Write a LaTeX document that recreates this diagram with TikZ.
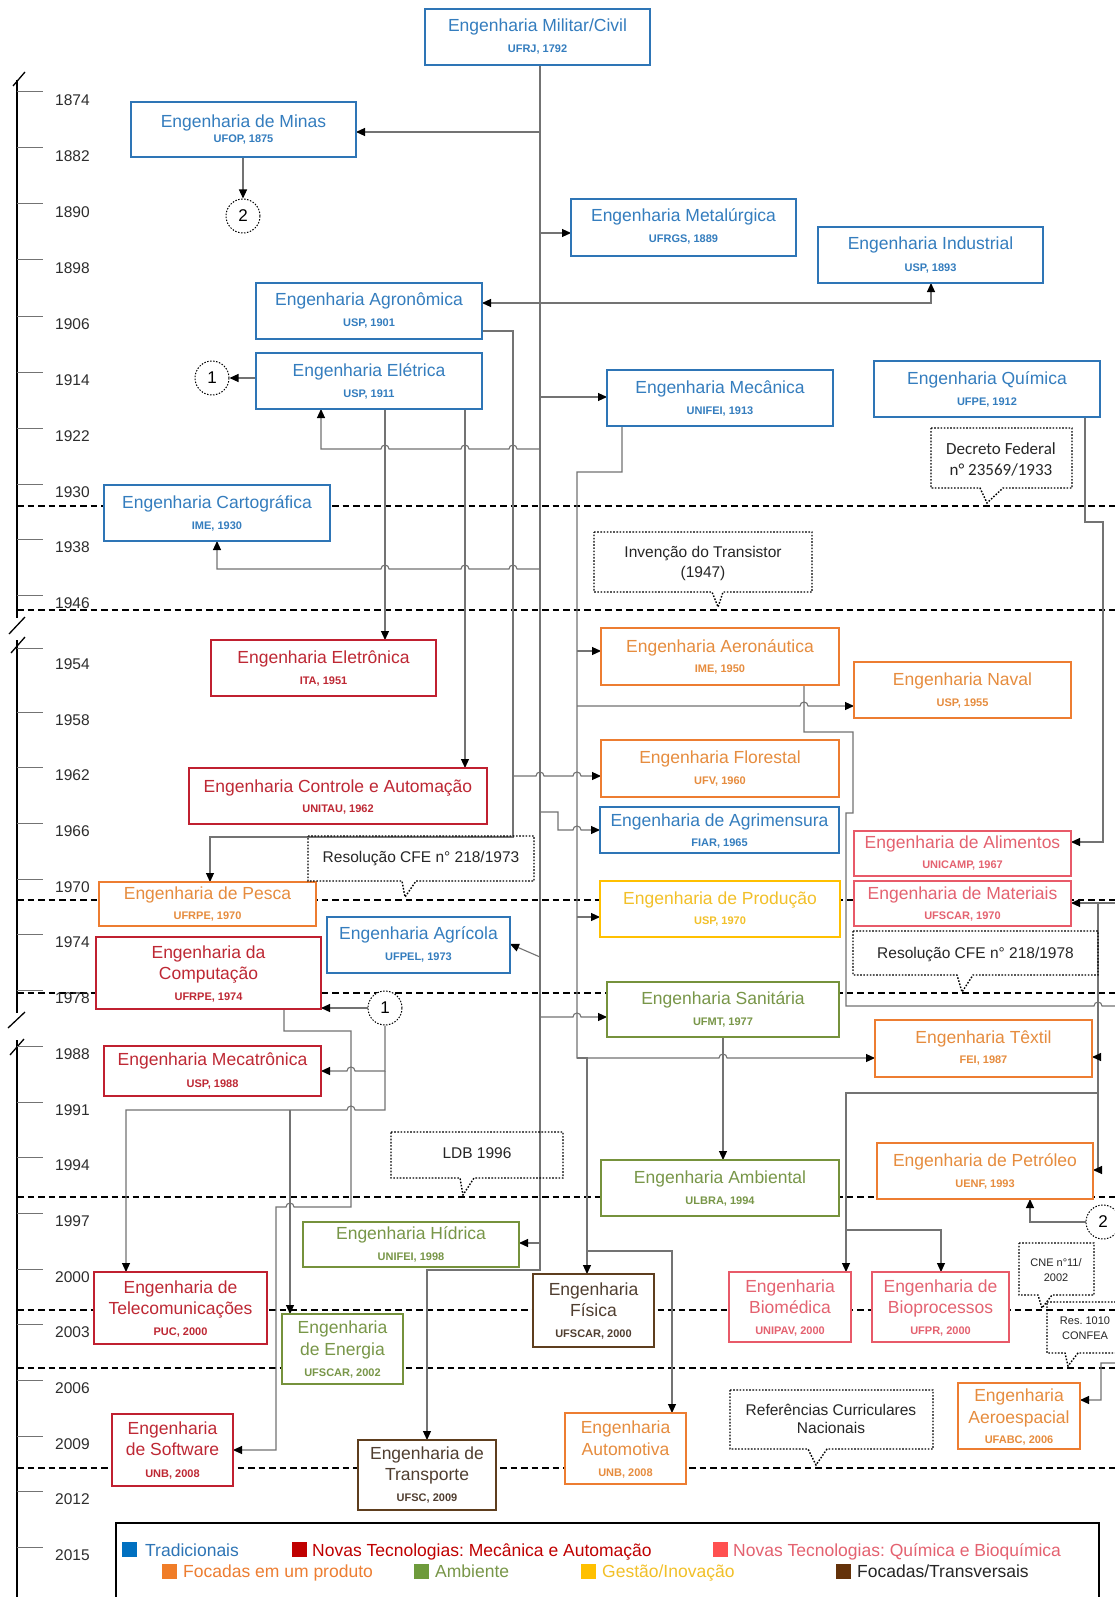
\documentclass[tikz,border=0pt]{standalone}
\usepackage{fontspec}
\setmainfont{Liberation Sans}
\newfontfamily\calibfont{Carlito}
\usetikzlibrary{arrows.meta}
\pgfdeclarelayer{base}
\pgfdeclarelayer{bg}
\pgfsetlayers{base,bg,main}
\frenchspacing
\newcounter{lbl}
\definecolor{tradB}{RGB}{46,117,182}\definecolor{tradT}{RGB}{52,125,190}
\definecolor{mecB}{RGB}{192,32,48}\definecolor{mecT}{RGB}{190,40,52}
\definecolor{quiB}{RGB}{232,90,105}\definecolor{quiT}{RGB}{228,98,112}
\definecolor{proB}{RGB}{237,125,49}\definecolor{proT}{RGB}{230,140,62}
\definecolor{ambB}{RGB}{118,146,60}\definecolor{ambT}{RGB}{120,150,72}
\definecolor{gesB}{RGB}{255,192,0}\definecolor{gesT}{RGB}{242,192,40}
\definecolor{trnB}{RGB}{94,62,30}\definecolor{trnT}{RGB}{80,62,48}
\definecolor{lgray}{RGB}{115,115,115}
\definecolor{yeargray}{RGB}{45,45,45}
\definecolor{sqBlue}{RGB}{0,112,192}\definecolor{sqRed}{RGB}{192,0,0}
\definecolor{sqPink}{RGB}{255,80,80}\definecolor{sqOrange}{RGB}{240,125,40}
\definecolor{sqGreen}{RGB}{110,155,60}\definecolor{sqYellow}{RGB}{255,192,0}
\definecolor{sqBrown}{RGB}{100,50,10}
\tikzset{
 conn/.style={draw=lgray,line width=1.1pt},
 arr/.style={conn,-{Triangle[length=9pt,width=8pt,color=black]}},
 ebox/.style={draw,line width=1.8pt,fill=white,inner sep=0pt,outer sep=0pt},
 ttl/.style={anchor=base,inner sep=0pt,font=\fontsize{17.5}{20}\selectfont},
 sbt/.style={anchor=base,inner sep=0pt,font=\bfseries\fontsize{11}{13}\selectfont},
 era/.style={draw=black,line width=2.4pt,dash pattern=on 6.5pt off 4pt},
 callout/.style={draw=black,line width=1.4pt,dash pattern=on 1.6pt off 1.6pt},
 ctext/.style={anchor=base,inner sep=0pt,font=\fontsize{15.5}{18}\selectfont,text=black!85},
 csmall/.style={anchor=base,inner sep=0pt,font=\fontsize{11}{13}\selectfont,text=black!85},
 ring/.style={circle,draw=black,line width=1pt,dash pattern=on 1.5pt off 1.5pt,fill=white,minimum size=34pt,inner sep=0pt,font=\fontsize{17}{20}\selectfont},
 lgsq/.style={minimum size=15pt,inner sep=0pt},
 lgtx/.style={anchor=base west,inner sep=0pt,font=\fontsize{17.5}{20}\selectfont},
}
\newcommand\EngBox[6]{\node[ebox,draw=#2B,minimum width={(#5-#3)*1pt},minimum height={(#6-#4)*1pt}] (#1) at ({(#3+#5)/2},{(#4+#6)/2}) {};}
\newcommand\BoxT[4]{\stepcounter{lbl}\node[ttl,text=#1T] (lbl\arabic{lbl}) at (#2,#3+6) {#4};}
\newcommand\BoxS[4]{\stepcounter{lbl}\node[sbt,text=#1T] (lbl\arabic{lbl}) at (#2,#3+4) {#4};}
\newcommand\hopR[2]{-- ({#1-4},#2) arc[start angle=180,end angle=0,radius=4pt]}
\newcommand\hopL[2]{-- ({#1+4},#2) arc[start angle=0,end angle=180,radius=4pt]}
\newcommand\CallOut[8]{\path[callout] (#1,#2) -- (#3,#2) -- (#3,#4) -- (#8,#4) -- (#6,#7) -- (#5,#4) -- (#1,#4) -- cycle;}
\begin{document}
\begin{tikzpicture}[x=1pt,y=-1pt]
\useasboundingbox (0,0) rectangle (1115,1597);
\begin{pgfonlayer}{base}
\fill[white] (0,0) rectangle (1115,1597);
\end{pgfonlayer}
% ---------- time axis ----------
\draw[line width=1.8pt] (17,80) -- (17,618) (17,640) -- (17,1013) (17,1040) -- (17,1605);
\draw[line width=1.3pt] (13,86) -- (25,72) (9,634) -- (25,617) (11,653) -- (25,637) (8,1028) -- (25,1012) (10,1055) -- (24,1039);
\foreach \yr/\yy in {1874/100,1882/156,1890/212,1898/268,1906/324,1914/380,1922/436,1930/492,1938/547,1946/603,1958/720,1962/775,1966/831,1970/887,1974/942,1978/998,1988/1054,1991/1110,1994/1165,1997/1221,2000/1277,2003/1332,2006/1388,2009/1444,2012/1499,2015/1555}{
 \draw[draw=lgray,line width=1pt] (17,\yy-8) -- (43,\yy-8);
 \node[anchor=base west,inner sep=0pt,font=\fontsize{15.5}{18}\selectfont,text=yeargray] (y\yr) at (55,\yy+5.5) {\yr};
}
\draw[draw=lgray,line width=1pt] (17,648) -- (43,648);
\node[anchor=base west,inner sep=0pt,font=\fontsize{15.5}{18}\selectfont,text=yeargray] (y1954) at (55,669.5) {1954};
% ---------- era lines ----------
\begin{pgfonlayer}{bg}
\foreach \yy in {506,610,900,993,1197,1310,1368,1468} \draw[era] (17,\yy) -- (1115,\yy);
\end{pgfonlayer}
% ---------- boxes ----------
\EngBox{militar}{trad}{425}{9}{650}{65}
\EngBox{minas}{trad}{131}{102}{356}{157}
\EngBox{metal}{trad}{571}{199}{796}{256}
\EngBox{indus}{trad}{818}{227}{1043}{283}
\EngBox{agron}{trad}{256}{283}{482}{339}
\EngBox{eletr}{trad}{256}{353}{482}{409}
\EngBox{mecan}{trad}{607}{370}{833}{426}
\EngBox{quim}{trad}{874}{361}{1100}{417}
\EngBox{carto}{trad}{104}{485}{330}{541}
\EngBox{eletron}{mec}{211}{640}{436}{696}
\EngBox{aero}{pro}{601}{628}{839}{685}
\EngBox{naval}{pro}{854}{662}{1071}{718}
\EngBox{flor}{pro}{601}{740}{839}{797}
\EngBox{contr}{mec}{189}{768}{487}{824}
\EngBox{agrim}{trad}{600}{807}{839}{853}
\EngBox{alim}{qui}{854}{831}{1071}{876}
\EngBox{pesca}{pro}{99}{882}{316}{926}
\EngBox{prod}{ges}{600}{881}{840}{937}
\EngBox{mater}{qui}{854}{881}{1071}{926}
\EngBox{agric}{trad}{327}{917}{510}{973}
\EngBox{comp}{mec}{96}{937}{321}{1009}
\EngBox{sanit}{amb}{607}{982}{839}{1037}
\EngBox{textil}{pro}{875}{1020}{1092}{1077}
\EngBox{mecat}{mec}{104}{1046}{321}{1096}
\EngBox{ambient}{amb}{601}{1160}{839}{1216}
\EngBox{petro}{pro}{877}{1143}{1093}{1199}
\EngBox{hidr}{amb}{303}{1222}{519}{1267}
\EngBox{fis}{trn}{533}{1274}{654}{1347}
\EngBox{biomed}{qui}{729}{1272}{851}{1342}
\EngBox{biopro}{qui}{872}{1272}{1009}{1342}
\EngBox{telec}{mec}{94}{1272}{267}{1344}
\EngBox{energ}{amb}{282}{1314}{403}{1384}
\EngBox{softw}{mec}{112}{1414}{233}{1486}
\EngBox{transp}{trn}{358}{1440}{496}{1510}
\EngBox{auto}{pro}{565}{1413}{686}{1484}
\EngBox{aeroesp}{pro}{958}{1383}{1080}{1449}
\node[ring] (c2a) at (243,216) {2};
\node[ring] (c1a) at (212,378) {1};
\node[ring] (c1b) at (385,1008) {1};
\node[ring] (c2b) at (1103,1222) {2};
% ---------- box texts ----------
\BoxT{trad}{537.5}{26}{Engenharia Militar/Civil}\BoxS{trad}{537.5}{49}{UFRJ, 1792}
\BoxT{trad}{243.5}{122}{Engenharia de Minas}\BoxS{trad}{243.5}{139}{UFOP, 1875}
\BoxT{trad}{683.5}{216}{Engenharia Metalúrgica}\BoxS{trad}{683.5}{239}{UFRGS, 1889}
\BoxT{trad}{930.5}{244}{Engenharia Industrial}\BoxS{trad}{930.5}{267}{USP, 1893}
\BoxT{trad}{369}{299}{Engenharia Agronômica}\BoxS{trad}{369}{322}{USP, 1901}
\BoxT{trad}{369}{370}{Engenharia Elétrica}\BoxS{trad}{369}{393}{USP, 1911}
\BoxT{trad}{720}{387}{Engenharia Mecânica}\BoxS{trad}{720}{410}{UNIFEI, 1913}
\BoxT{trad}{987}{378}{Engenharia Química}\BoxS{trad}{987}{401}{UFPE, 1912}
\BoxT{trad}{217}{502}{Engenharia Cartográfica}\BoxS{trad}{217}{525}{IME, 1930}
\BoxT{mec}{323.5}{657}{Engenharia Eletrônica}\BoxS{mec}{323.5}{680}{ITA, 1951}
\BoxT{pro}{720}{646}{Engenharia Aeronáutica}\BoxS{pro}{720}{668}{IME, 1950}
\BoxT{pro}{962.5}{679}{Engenharia Naval}\BoxS{pro}{962.5}{702}{USP, 1955}
\BoxT{pro}{720}{757}{Engenharia Florestal}\BoxS{pro}{720}{780}{UFV, 1960}
\BoxT{mec}{338}{786}{Engenharia Controle e Automação}\BoxS{mec}{338}{808}{UNITAU, 1962}
\BoxT{trad}{719.5}{820}{Engenharia de Agrimensura}\BoxS{trad}{719.5}{842}{FIAR, 1965}
\BoxT{qui}{962.5}{842}{Engenharia de Alimentos}\BoxS{qui}{962.5}{864}{UNICAMP, 1967}
\BoxT{pro}{207.5}{893}{Engenharia de Pesca}\BoxS{pro}{207.5}{915}{UFRPE, 1970}
\BoxT{ges}{720}{898}{Engenharia de Produção}\BoxS{ges}{720}{920}{USP, 1970}
\BoxT{qui}{962.5}{893}{Engenharia de Materiais}\BoxS{qui}{962.5}{915}{UFSCAR, 1970}
\BoxT{trad}{418.5}{933}{Engenharia Agrícola}\BoxS{trad}{418.5}{956}{UFPEL, 1973}
\BoxT{mec}{208.5}{952}{Engenharia da}\BoxT{mec}{208.5}{973}{Computação}\BoxS{mec}{208.5}{996}{UFRPE, 1974}
\BoxT{amb}{723}{998}{Engenharia Sanitária}\BoxS{amb}{723}{1021}{UFMT, 1977}
\BoxT{pro}{983.5}{1037}{Engenharia Têxtil}\BoxS{pro}{983.5}{1059}{FEI, 1987}
\BoxT{mec}{212.5}{1059}{Engenharia Mecatrônica}\BoxS{mec}{212.5}{1083}{USP, 1988}
\BoxT{amb}{720}{1177}{Engenharia Ambiental}\BoxS{amb}{720}{1200}{ULBRA, 1994}
\BoxT{pro}{985}{1160}{Engenharia de Petróleo}\BoxS{pro}{985}{1183}{UENF, 1993}
\BoxT{amb}{411}{1233}{Engenharia Hídrica}\BoxS{amb}{411}{1256}{UNIFEI, 1998}
\BoxT{trn}{593.5}{1289}{Engenharia}\BoxT{trn}{593.5}{1310}{Física}\BoxS{trn}{593.5}{1333}{UFSCAR, 2000}
\BoxT{qui}{790}{1286}{Engenharia}\BoxT{qui}{790}{1307}{Biomédica}\BoxS{qui}{790}{1330}{UNIPAV, 2000}
\BoxT{qui}{940.5}{1286}{Engenharia de}\BoxT{qui}{940.5}{1307}{Bioprocessos}\BoxS{qui}{940.5}{1330}{UFPR, 2000}
\BoxT{mec}{180.5}{1287}{Engenharia de}\BoxT{mec}{180.5}{1308}{Telecomunicações}\BoxS{mec}{180.5}{1331}{PUC, 2000}
\BoxT{amb}{342.5}{1327}{Engenharia}\BoxT{amb}{342.5}{1349}{de Energia}\BoxS{amb}{342.5}{1372}{UFSCAR, 2002}
\BoxT{mec}{172.5}{1428}{Engenharia}\BoxT{mec}{172.5}{1449}{de Software}\BoxS{mec}{172.5}{1473}{UNB, 2008}
\BoxT{trn}{427}{1453}{Engenharia de}\BoxT{trn}{427}{1474}{Transporte}\BoxS{trn}{427}{1497}{UFSC, 2009}
\BoxT{pro}{625.5}{1427}{Engenharia}\BoxT{pro}{625.5}{1449}{Automotiva}\BoxS{pro}{625.5}{1472}{UNB, 2008}
\BoxT{pro}{1019}{1395}{Engenharia}\BoxT{pro}{1019}{1417}{Aeroespacial}\BoxS{pro}{1019}{1439}{UFABC, 2006}
% ---------- connectors ----------
\begin{pgfonlayer}{bg}
% trunk
\draw[arr] (militar.south -| 540,0) -- (540,1270) -- (transp.north |- 0,1270) -- (transp.north);
\draw[arr] (540,132) -- (minas.east |- 0,132);
\draw[arr] (minas.south -| 243,0) -- (c2a.north);
\draw[arr] (540,233) -- (metal.west |- 0,233);
\draw[arr] (540,303) -- (agron.east |- 0,303);
\draw[arr] (540,303) -- (931,303) -- (indus.south -| 931,0);
\draw[arr] (540,397) -- (mecan.west |- 0,397);
\draw[arr] (eletr.west |- 0,378) -- (c1a.east);
\draw[arr] (540,449) \hopL{513}{449} \hopL{465}{449} \hopL{385}{449} -- (321,449) -- (eletr.south -| 321,0);
\draw[arr] (540,569) \hopL{513}{569} \hopL{465}{569} \hopL{385}{569} -- (217,569) -- (carto.south -| 217,0);
\draw[arr] (eletr.south -| 385,0) -- (eletron.north -| 385,0);
\draw[arr] (eletr.south -| 465,0) -- (contr.north -| 465,0);
\draw[arr] (agron.east |- 0,331) -- (513,331) -- (513,837) -- (210,837) -- (pesca.north -| 210,0);
\draw[arr] (513,776) \hopR{540}{776} \hopR{577}{776} -- (flor.west |- 0,776);
% Mecanica branch
\draw[arr] (mecan.south -| 622,0) -- (622,472) -- (577,472) -- (577,1058) \hopR{723}{1058} -- (textil.west |- 0,1058);
\draw[arr] (577,651) -- (aero.west |- 0,651);
\draw[arr] (577,706) \hopR{804}{706} -- (naval.west |- 0,706);
\draw[arr] (577,917) -- (prod.west |- 0,917);
\draw[arr] (577,1058) -- (587,1058) -- (fis.north -| 587,0);
\draw[arr] (587,1251) -- (672,1251) -- (auto.north -| 672,0);
\draw[arr] (540,812) -- (558,812) -- (558,830) \hopR{577}{830} -- (agrim.west |- 0,830);
\draw[arr] (540,1017) \hopR{577}{1017} -- (sanit.west |- 0,1017);
\draw[arr] (540,957) -- (agric.east |- 0,944);
\draw[arr] (sanit.south -| 723,0) -- (ambient.north -| 723,0);
\draw[arr] (540,1243) -- (hidr.east |- 0,1243);
% Aeronautica -> Aeroespacial
\draw[arr] (aero.south -| 804,0) -- (804,732) -- (853,732) -- (853,813) -- (846,813) -- (846,1006) \hopR{1098}{1006} -- (1125,1006) -- (1125,1363) -- (1101,1363) -- (1101,1400) -- (aeroesp.east |- 0,1400);
% Quimica branch
\draw[arr] (quim.south -| 1085,0) -- (1085,522) -- (1103,522) -- (1103,842) -- (alim.east |- 0,842);
\draw[arr] (1125,903) -- (mater.east |- 0,903);
\draw[arr] (1098,903) -- (1098,1170) -- (petro.east |- 0,1170);
\draw[arr] (1098,1057) -- (textil.east |- 0,1057);
\draw[arr] (1098,1093) -- (846,1093) -- (biomed.north -| 846,0);
\draw[arr] (846,1230) -- (941,1230) -- (biopro.north -| 941,0);
\draw[arr] (c2b.west) -- (1030,1222) -- (petro.south -| 1030,0);
% circle 1 and Computacao
\draw[arr] (c1b.west) -- (comp.east |- 0,1008);
\draw[arr] (c1b.south) -- (385,1071) \hopL{351}{1071} -- (mecat.east |- 0,1071);
\draw[arr] (385,1071) -- (385,1110) \hopL{351}{1110} -- (126,1110) -- (telec.north -| 126,0);
\draw[arr] (290,1110) -- (energ.north -| 290,0);
\draw[arr] (comp.south -| 284,0) -- (284,1031) -- (351,1031) -- (351,1207) \hopL{290}{1207} -- (276,1207) -- (276,1450) -- (softw.east |- 0,1450);
\end{pgfonlayer}
% ---------- callouts ----------
\CallOut{931}{428}{1072}{488}{980}{987}{503}{1003}
\node[anchor=base,inner sep=0pt,font=\calibfont\fontsize{17}{20}\selectfont,text=black!85] (decA) at (1001,454) {Decreto Federal};
\node[anchor=base,inner sep=0pt,font=\calibfont\fontsize{17}{20}\selectfont,text=black!85] (decB) at (1001,475) {n° 23569/1933};
\CallOut{594}{532}{812}{592}{712}{718}{607}{723}
\node[ctext] (trA) at (703,557.5) {Invenção do Transistor};
\node[ctext] (trB) at (703,577.5) {(1947)};
\CallOut{308}{836}{534}{881}{402}{405}{897}{416}
\node[ctext] (r73) at (421,862.5) {Resolução CFE n° 218/1973};
\CallOut{853}{931}{1098}{975}{957}{962}{992}{973}
\node[ctext] (r78) at (975.5,958.5) {Resolução CFE n° 218/1978};
\CallOut{391}{1132}{563}{1178}{460}{463}{1195}{474}
\node[ctext] (ldb) at (477,1158.5) {LDB 1996};
\CallOut{1019}{1243}{1094}{1295}{1038}{1042}{1308}{1052}
\node[csmall] (cneA) at (1056,1266) {CNE n°11/};
\node[csmall] (cneB) at (1056,1281) {2002};
\CallOut{1047}{1302}{1125}{1353}{1065}{1068}{1366}{1078}
\node[csmall] (rsA) at (1085,1324) {Res. 1010};
\node[csmall] (rsB) at (1085,1339) {CONFEA};
\CallOut{730}{1390}{933}{1449}{808}{816}{1465}{827}
\node[ctext] (rfA) at (831,1415.5) {Referências Curriculares};
\node[ctext] (rfB) at (831,1433.5) {Nacionais};
% ---------- legend ----------
\node[draw=black,line width=2.2pt,minimum width=983pt,minimum height=79pt,inner sep=0pt] (legend) at (607.5,1562.5) {};
\node[lgsq,fill=sqBlue] (sqA) at (129.5,1549.5) {};
\node[lgtx,text=tradB] (lgA) at (145,1556) {Tradicionais};
\node[lgsq,fill=sqRed] (sqB) at (299,1549.5) {};
\node[lgtx,text=sqRed] (lgB) at (312,1556) {Novas Tecnologias: Mecânica e Automação};
\node[lgsq,fill=sqPink] (sqC) at (720,1549.5) {};
\node[lgtx,text=quiT] (lgC) at (733,1556) {Novas Tecnologias: Química e Bioquímica};
\node[lgsq,fill=sqOrange] (sqD) at (169,1571) {};
\node[lgtx,text=proB] (lgD) at (183,1577) {Focadas em um produto};
\node[lgsq,fill=sqGreen] (sqE) at (421.5,1571) {};
\node[lgtx,text=ambT] (lgE) at (435,1577) {Ambiente};
\node[lgsq,fill=sqYellow] (sqF) at (588.5,1571) {};
\node[lgtx,text=gesT] (lgF) at (602,1577) {Gestão/Inovação};
\node[lgsq,fill=sqBrown] (sqG) at (843.5,1571) {};
\node[lgtx,text=black!85] (lgG) at (857,1577) {Focadas/Transversais};
\end{tikzpicture}
\end{document}
